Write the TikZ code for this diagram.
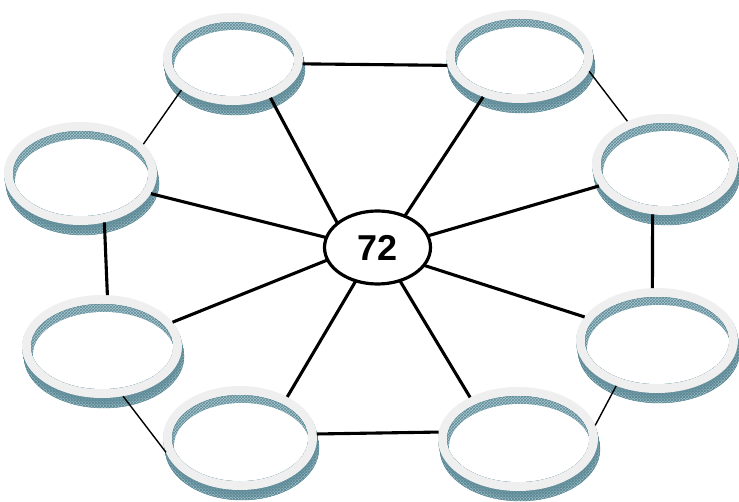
\documentclass[tikz,border=0pt]{standalone}
\usepackage{fontspec}
\setmainfont{Liberation Sans}
\usetikzlibrary{shapes.geometric,patterns}
\definecolor{wallc}{RGB}{172,200,208}
\definecolor{hatchc}{RGB}{95,140,152}
\definecolor{walledge}{RGB}{80,128,142}
\definecolor{facec}{RGB}{239,239,239}
\tikzset{
  ringnode/.style={ellipse, inner sep=0pt, outer sep=0pt, draw=none},
  thickcon/.style={line width=3.1pt, black},
  thincon/.style={line width=1.4pt, black},
  hub/.style={ellipse, draw=black, line width=3.2pt, fill=white, minimum width=106pt, minimum height=73pt, inner sep=0pt, outer sep=0pt, font=\fontsize{36}{40}\selectfont\bfseries}
}
\newcommand\myring[5]{%
  \node[ringnode, minimum width=2*#4 pt, minimum height=2*#5 pt] (#1) at (#2,#3) {};
  \foreach \k in {1,...,10}{\fill[wallc] (#2+0.2*\k,#3+\k) ellipse [x radius=#4, y radius=#5];}
  \foreach \k in {1,...,10}{\fill[pattern=crosshatch, pattern color=hatchc] (#2+0.2*\k,#3+\k) ellipse [x radius=#4, y radius=#5];}
  \draw[walledge, line width=0.4pt] (#2+2,#3+10) ellipse [x radius=#4, y radius=#5];
  \fill[facec, even odd rule] (#2,#3) ellipse [x radius=#4, y radius=#5] (#2,#3) ellipse [x radius=#4-9, y radius=#5-9];
  \begin{scope}
    \clip (#2,#3) ellipse [x radius=#4-9, y radius=#5-9];
    \fill[wallc] (#2,#3) ellipse [x radius=#4-9, y radius=#5-9];
    \fill[pattern=crosshatch, pattern color=hatchc] (#2,#3) ellipse [x radius=#4-9, y radius=#5-9];
    \draw[walledge, line width=0.4pt] (#2,#3) ellipse [x radius=#4-9, y radius=#5-9];
    \fill[white] (#2+2,#3+8) ellipse [x radius=#4-9, y radius=#5-9];
  \end{scope}
}
\begin{document}
\begin{tikzpicture}[x=1pt,y=-1pt]
\useasboundingbox (0,0) rectangle (739,502);
\fill[white] (0,0) rectangle (739,502);
\myring{tl}{233}{59}{70}{46}
\myring{tr}{519.5}{56.5}{73.5}{46.5}
\myring{l}{80.5}{173.5}{76.5}{51.5}
\myring{r}{665}{164.5}{73}{50.5}
\myring{ll}{102}{346.5}{80}{51.5}
\myring{rr}{657}{340.5}{81}{52.5}
\myring{bl}{240}{438}{77}{52}
\myring{br}{518}{439}{80}{52}
\node[hub] (c) at (377.5,247.5) {72};
% outer connections
\draw[thickcon] (tl.-4.9) -- (tr.-173);
\draw[thickcon] (l.-64) -- (ll.84.5);
\draw[thickcon] (r.-104.4) -- (rr.95.9);
\draw[thickcon] (bl.3.7) -- (br.175.6);
\draw[thincon] (tl.-149) -- (l.25.9);
\draw[thincon] (tr.-12.4) -- (r.131.5);
\draw[thincon] (ll.-67.5) -- (bl.-169.4);
\draw[thincon] (rr.-132.6) -- (br.10.6);
% spokes
\draw[thickcon] (c.149) -- (tl.-46.4);
\draw[thickcon] (c.49.8) -- (tr.-132.2);
\draw[thickcon] (c.169.1) -- (l.-16.1);
\draw[thickcon] (c.13.4) -- (r.-162.5);
\draw[thickcon] (c.-166.6) -- (ll.19.8);
\draw[thickcon] (c.-21.3) -- (rr.162.6);
\draw[thickcon] (c.-123.1) -- (bl.41.5);
\draw[thickcon] (c.-56.9) -- (br.139.3);
\end{tikzpicture}
\end{document}
